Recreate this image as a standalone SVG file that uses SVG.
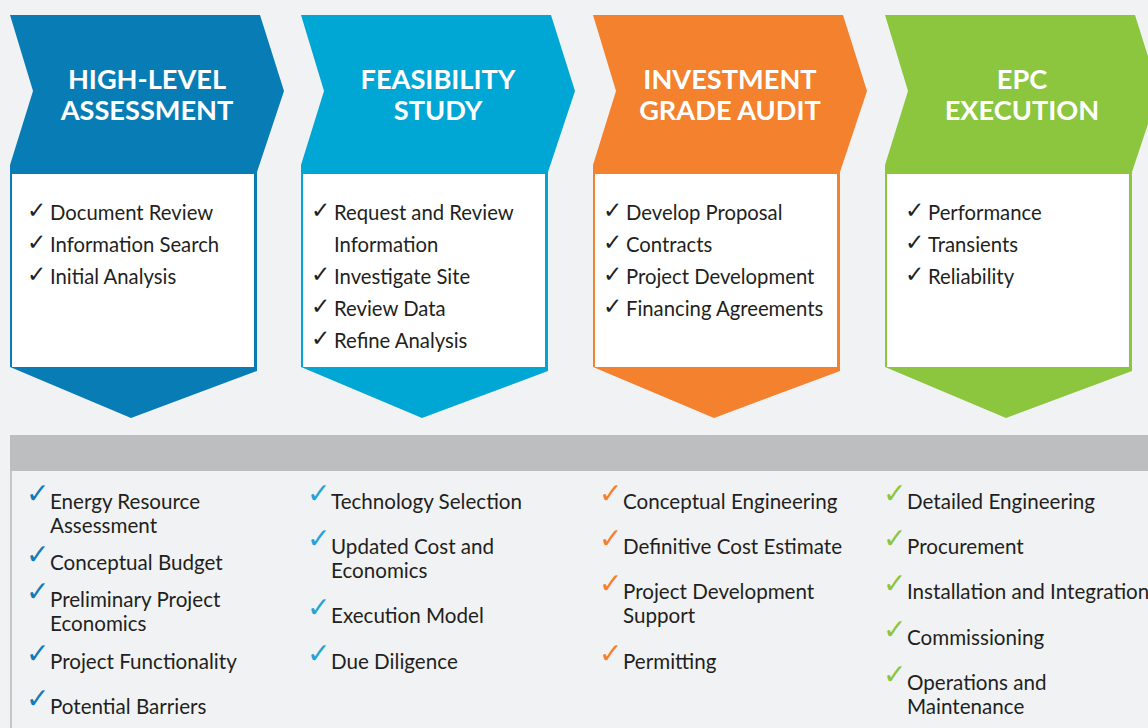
<svg xmlns="http://www.w3.org/2000/svg" width="1148" height="728" viewBox="0 0 1148 728">
<style>
.hd{font-family:Lato,"Open Sans","Liberation Sans",sans-serif;font-weight:700;font-size:27.2px;fill:#fff;text-anchor:middle}
.it{font-family:Lato,"Open Sans","Liberation Sans",sans-serif;font-size:20.3px;fill:#231f20}
.bt{font-family:Lato,"Open Sans","Liberation Sans",sans-serif;font-size:20.6px;fill:#231f20}
.ck{font-family:"DejaVu Sans",sans-serif;font-size:23px;fill:#231f20}
.bk{font-family:"DejaVu Sans",sans-serif;font-weight:700;font-size:28px}
.box{fill:#fff}
</style>
<rect width="1148" height="728" fill="#f1f2f4"/>

<g id="stage-high-level">
<polygon fill="#087db5" points="10,15 260,15 284,91 257,172 257,371 131,418 10,367 10,165 33,91"/>
<rect class="box" x="12" y="174" width="242" height="193"/>
<text class="hd" x="147" y="89">HIGH-LEVEL</text>
<text class="hd" x="147" y="120">ASSESSMENT</text>
<text class="ck" x="27" y="218">✓</text><text class="it" x="50" y="220">Document Review</text>
<text class="ck" x="27" y="250">✓</text><text class="it" x="50" y="252">Information Search</text>
<text class="ck" x="27" y="282">✓</text><text class="it" x="50" y="284">Initial Analysis</text>
</g>

<g id="stage-feasibility">
<polygon fill="#00a7d5" points="301,15 551,15 575,91 548,172 548,371 422,418 301,367 301,165 324,91"/>
<rect class="box" x="303" y="174" width="242" height="193"/>
<text class="hd" x="438" y="89">FEASIBILITY</text>
<text class="hd" x="438" y="120">STUDY</text>
<text class="ck" x="311" y="218">✓</text><text class="it" x="334" y="220">Request and Review</text>
<text class="it" x="334" y="252">Information</text>
<text class="ck" x="311" y="282">✓</text><text class="it" x="334" y="284">Investigate Site</text>
<text class="ck" x="311" y="314">✓</text><text class="it" x="334" y="316">Review Data</text>
<text class="ck" x="311" y="346">✓</text><text class="it" x="334" y="348">Refine Analysis</text>
</g>

<g id="stage-investment">
<polygon fill="#f3812e" points="593,15 843,15 867,91 840,172 840,371 714,418 593,367 593,165 616,91"/>
<rect class="box" x="595" y="174" width="242" height="193"/>
<text class="hd" x="730" y="89">INVESTMENT</text>
<text class="hd" x="730" y="120">GRADE AUDIT</text>
<text class="ck" x="603" y="218">✓</text><text class="it" x="626" y="220">Develop Proposal</text>
<text class="ck" x="603" y="250">✓</text><text class="it" x="626" y="252">Contracts</text>
<text class="ck" x="603" y="282">✓</text><text class="it" x="626" y="284">Project Development</text>
<text class="ck" x="603" y="314">✓</text><text class="it" x="626" y="316">Financing Agreements</text>
</g>

<g id="stage-epc">
<polygon fill="#8cc63f" points="885,15 1135,15 1159,91 1132,172 1132,371 1006,418 885,367 885,165 908,91"/>
<rect class="box" x="887" y="174" width="242" height="193"/>
<text class="hd" x="1022" y="89">EPC</text>
<text class="hd" x="1022" y="120">EXECUTION</text>
<text class="ck" x="905" y="218">✓</text><text class="it" x="928" y="220">Performance</text>
<text class="ck" x="905" y="250">✓</text><text class="it" x="928" y="252">Transients</text>
<text class="ck" x="905" y="282">✓</text><text class="it" x="928" y="284">Reliability</text>
</g>

<g id="connectors"></g>

<g id="details-panel">
<rect x="10" y="435" width="1138" height="36" fill="#bcbec0"/>
<rect x="10" y="471" width="2" height="257" fill="#c5c6c8"/>
</g>

<g id="details-high-level">
<text class="bk" x="26" y="503" fill="#157bb8">✓</text><text class="bt" x="50" y="509">Energy Resource</text>
<text class="bt" x="50" y="533">Assessment</text>
<text class="bk" x="26" y="564" fill="#157bb8">✓</text><text class="bt" x="50" y="570">Conceptual Budget</text>
<text class="bk" x="26" y="601" fill="#157bb8">✓</text><text class="bt" x="50" y="607">Preliminary Project</text>
<text class="bt" x="50" y="631">Economics</text>
<text class="bk" x="26" y="663" fill="#157bb8">✓</text><text class="bt" x="50" y="669">Project Functionality</text>
<text class="bk" x="26" y="708" fill="#157bb8">✓</text><text class="bt" x="50" y="714">Potential Barriers</text>
</g>

<g id="details-feasibility">
<text class="bk" x="307" y="503" fill="#27a2d4">✓</text><text class="bt" x="331" y="509">Technology Selection</text>
<text class="bk" x="307" y="548" fill="#27a2d4">✓</text><text class="bt" x="331" y="554">Updated Cost and</text>
<text class="bt" x="331" y="578">Economics</text>
<text class="bk" x="307" y="617" fill="#27a2d4">✓</text><text class="bt" x="331" y="623">Execution Model</text>
<text class="bk" x="307" y="663" fill="#27a2d4">✓</text><text class="bt" x="331" y="669">Due Diligence</text>
</g>

<g id="details-investment">
<text class="bk" x="599" y="503" fill="#f3812e">✓</text><text class="bt" x="623" y="509">Conceptual Engineering</text>
<text class="bk" x="599" y="548" fill="#f3812e">✓</text><text class="bt" x="623" y="554">Definitive Cost Estimate</text>
<text class="bk" x="599" y="593" fill="#f3812e">✓</text><text class="bt" x="623" y="599">Project Development</text>
<text class="bt" x="623" y="623">Support</text>
<text class="bk" x="599" y="663" fill="#f3812e">✓</text><text class="bt" x="623" y="669">Permitting</text>
</g>

<g id="details-epc">
<text class="bk" x="883" y="503" fill="#8cc63f">✓</text><text class="bt" x="907" y="509">Detailed Engineering</text>
<text class="bk" x="883" y="548" fill="#8cc63f">✓</text><text class="bt" x="907" y="554">Procurement</text>
<text class="bk" x="883" y="593" fill="#8cc63f">✓</text><text class="bt" x="907" y="599">Installation and Integration</text>
<text class="bk" x="883" y="639" fill="#8cc63f">✓</text><text class="bt" x="907" y="645">Commissioning</text>
<text class="bk" x="883" y="684" fill="#8cc63f">✓</text><text class="bt" x="907" y="690">Operations and</text>
<text class="bt" x="907" y="714">Maintenance</text>
</g>
</svg>
